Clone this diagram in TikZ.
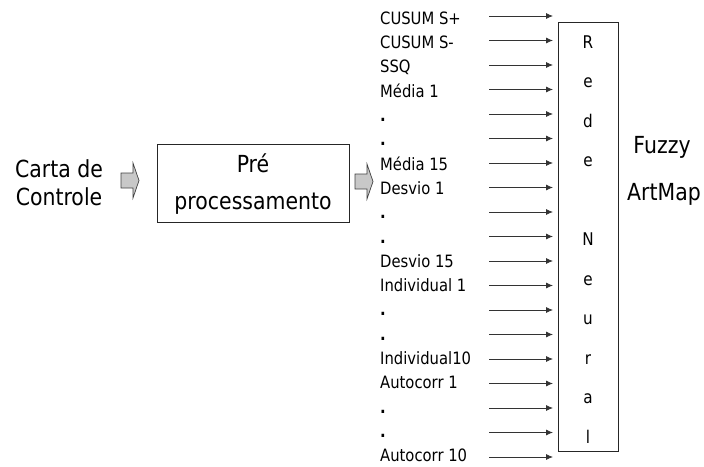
\documentclass[tikz,border=0pt]{standalone}
\usepackage{fontspec}
\setmainfont[FakeStretch=0.87]{DejaVu Sans}
\usetikzlibrary{arrows.meta}
\definecolor{flowgray}{RGB}{200,200,200}

\begin{document}
\begin{tikzpicture}[x=1pt, y=-1pt,
    bigtxt/.style={font=\fontsize{23.5}{28}\selectfont, inner sep=0pt, anchor=base},
    smalltxt/.style={font=\fontsize{17}{20}\selectfont, inner sep=0pt, text depth=0pt, anchor=base west},
    lettertxt/.style={font=\fontsize{17.5}{20}\selectfont, inner sep=0pt, anchor=base},
    procbox/.style={draw=black!85, line width=0.8pt, minimum width=192pt, minimum height=78pt, inner sep=0pt},
    netbox/.style={draw=black!85, line width=0.8pt, minimum width=60pt, minimum height=429pt, inner sep=0pt},
    feed/.style={-{Latex[length=7pt,width=6pt]}, line width=0.8pt, black!80},
    blockarrow/.style={draw=black!75, fill=flowgray, line width=0.7pt}
  ]
  \useasboundingbox (0,0) rectangle (704,466);

  % input chart
  \node[bigtxt] (carta) at (59,177) {Carta de};
  \node[bigtxt] (controle) at (59,205) {Controle};

  % preprocessing block
  \node[procbox] (pre) at (253,183) {};
  \node[bigtxt] (pre1) at (253,172) {Pré};
  \node[bigtxt] (pre2) at (253,209) {processamento};

  % block arrows
  \draw[blockarrow] (121,173) -- (133,173) -- (133,163) -- (139,180.5) -- (133,198) -- (133,188) -- (121,188) -- cycle;
  \draw[blockarrow] (355,174) -- (367,174) -- (367,164) -- (373,181.5) -- (367,199) -- (367,189) -- (355,189) -- cycle;

  % neural network
  \node[netbox] (net) at (588,236.5) {};
  \foreach \ch [count=\k from 0] in {R,e,d,e,{},N,e,u,r,a,l}
    \node[lettertxt] (letter\k) at (588,48+39.5*\k) {\ch};

  \node[bigtxt] (fuzzy) at (662,153) {Fuzzy};
  \node[bigtxt] (artmap) at (664,200) {ArtMap};

  % inputs
  \foreach \lbl [count=\i from 0] in {CUSUM S+,CUSUM S-,SSQ,Média 1,\textbf{.},\textbf{.},Média 15,Desvio 1,\textbf{.},\textbf{.},Desvio 15,Individual 1,\textbf{.},\textbf{.},Individual10,Autocorr 1,\textbf{.},\textbf{.},Autocorr 10}
  {
    \node[smalltxt] (in\i) at (380,24.3+24.3*\i) {\lbl};
    \coordinate (src\i) at (489,16+24.5*\i);
    \coordinate (dst\i) at (553,16+24.5*\i);
    \draw[feed] (src\i) -- (dst\i);
  }
\end{tikzpicture}
\end{document}
